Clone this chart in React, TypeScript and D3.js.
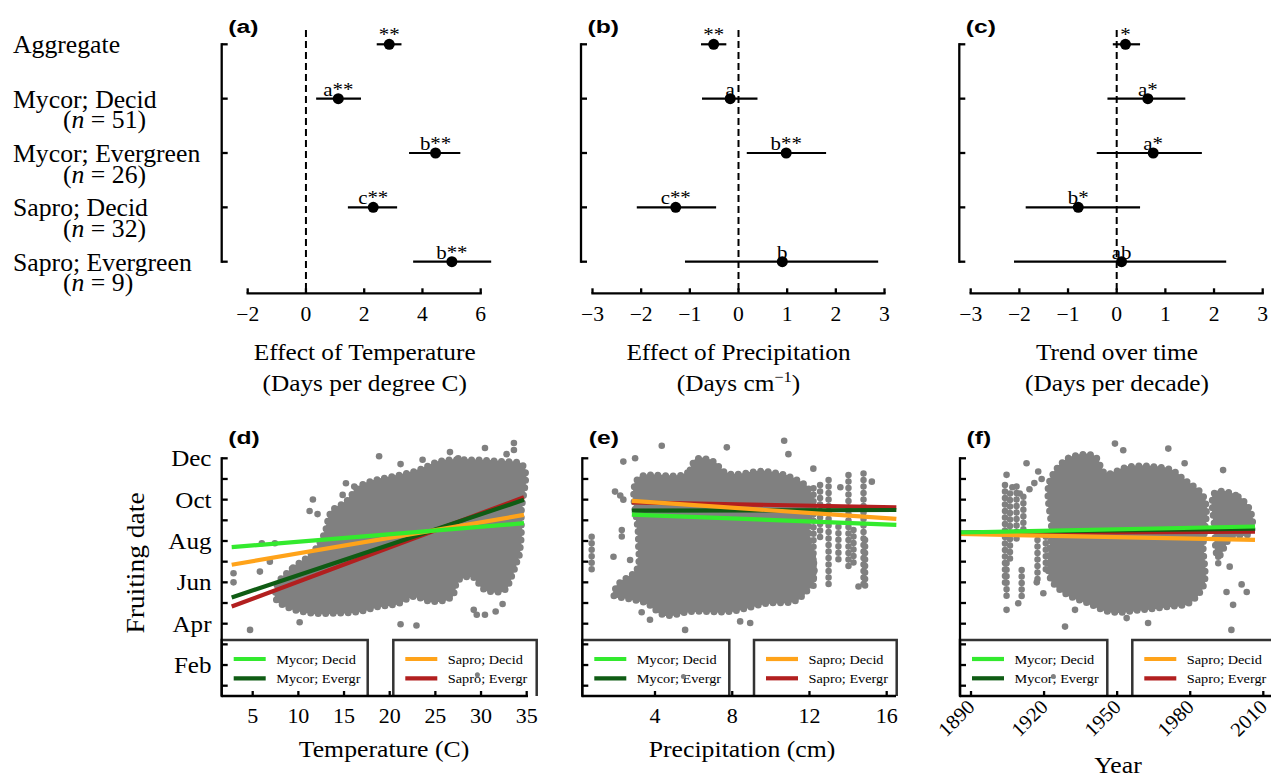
import React from "react";
import * as d3 from "d3";

// ---------- Top row: effect estimates ----------
const categories = ["Aggregate", "Mycor; Decid", "Mycor; Evergreen", "Sapro; Decid", "Sapro; Evergreen"];
const sampleSizes = [null, 51, 26, 32, 9];

const tempEst = [2.86, 1.11, 4.45, 2.31, 5.01];
const tempLo = [2.43, 0.35, 3.54, 1.44, 3.68];
const tempHi = [3.28, 1.89, 5.3, 3.13, 6.36];
const tempSig = ["**", "a**", "b**", "c**", "b**"];
const tempTicks = [-2, 0, 2, 4, 6];

const precipEst = [-0.51, -0.17, 0.98, -1.29, 0.9];
const precipLo = [-0.77, -0.75, 0.17, -2.09, -1.1];
const precipHi = [-0.25, 0.39, 1.8, -0.46, 2.87];
const precipSig = ["**", "a", "b**", "c**", "b"];

const trendEst = [0.18, 0.64, 0.75, -0.79, 0.1];
const trendLo = [-0.08, -0.19, -0.41, -1.87, -2.11];
const trendHi = [0.48, 1.41, 1.75, 0.48, 2.25];
const trendSig = ["*", "a*", "a*", "b*", "ab"];
const effectTicks = [-3, -2, -1, 0, 1, 2, 3];

// ---------- Bottom row: raw data + fits ----------
const monthValues = [2, 4, 6, 8, 10, 12];
const monthNames = ["Feb", "Apr", "Jun", "Aug", "Oct", "Dec"];
const monthMinor = [1, 2, 3, 4, 5, 6, 7, 8, 9, 10, 11, 12];

const seriesNames = ["Mycor; Decid", "Mycor; Evergr", "Sapro; Decid", "Sapro; Evergr"];

const tempTicksB = [5, 10, 15, 20, 25, 30, 35];
const tempFitRange = [2.7, 34.7];
const tempFitStart = [7.7, 5.27, 6.85, 4.83];
const tempFitEnd = [8.86, 9.99, 9.26, 10.12];

const precipTicksB = [4, 8, 12, 16];
const precipFitRange = [2.8, 16.5];
const precipFitStart = [9.28, 9.47, 9.94, 9.87];
const precipFitEnd = [8.78, 9.5, 9.07, 9.63];

const yearTicks = [1890, 1920, 1950, 1980, 2010];
const yearFitRange = [1885.3, 2006.6];
const yearFitStart = [8.41, 8.41, 8.34, 8.38];
const yearFitEnd = [8.7, 8.6, 8.05, 8.45];

// dense regions of fruiting records (outline, [x, month])
const tempCloud = [
  [7.61, 5.8], [9.42, 6.7], [11.5, 7.4], [12.8, 8.3], [13.76, 9.5], [15.21, 9.9], [16.66, 10.63],
  [18.47, 10.95], [20.29, 11.11], [23.18, 11.43], [25.36, 11.84], [28.99, 11.92], [32.25, 11.84],
  [34.24, 11.76], [34.4, 9.34], [34.24, 7.57], [33.33, 6.28], [32.6, 5.64], [30.43, 5.64],
  [28.99, 6.28], [27.53, 6.12], [26.81, 5.31], [24.63, 5.07], [22.46, 5.31], [21.0, 4.99],
  [18.84, 4.83], [16.66, 4.59], [14.12, 4.51], [11.59, 4.51], [8.69, 4.83], [7.61, 5.15],
];
const tempPoints = [
  [4.71, 3.7], [11.59, 10.01], [11.23, 9.45], [12.1, 9.3], [18.84, 12.1], [21.19, 11.72], [23.6, 11.93],
  [30.43, 12.5], [33.6, 12.74], [33.6, 12.4], [21.19, 3.97], [22.93, 3.91], [10.14, 4.07], [29.6, 3.08],
  [30.43, 4.43], [31.6, 4.59], [29.53, 4.43], [29.2, 4.67], [32.36, 4.95], [34.2, 7.3], [2.9, 6.44],
  [2.9, 6.0], [6.0, 7.89], [7.43, 7.89], [6.88, 7.0], [5.79, 6.52], [15.21, 10.79], [16.12, 10.63],
  [14.85, 10.23], [32.8, 12.2], [26.6, 12.3], [27.5, 12.0],
];
const tempOverPoints = [[29.6, 1.53]];

const precipCloud = [
  [3.14, 11.03], [5.82, 11.43], [6.08, 11.92], [7.03, 11.84], [7.55, 11.36], [9.79, 11.36],
  [11.17, 11.03], [11.86, 10.63], [11.95, 8.53], [12.04, 5.8], [11.35, 5.15], [9.79, 4.99],
  [7.89, 4.59], [5.82, 4.59], [4.44, 4.43], [3.57, 4.99], [2.54, 5.23], [1.85, 5.39], [2.02, 5.8],
  [3.05, 6.6], [3.14, 8.05],
];
const precipStripes = [
  [0.72, 8.21, 6.6], [2.28, 8.53, 8.05], [12.21, 10.55, 5.8], [12.55, 10.71, 8.05], [12.99, 10.95, 5.88],
  [13.5, 8.69, 6.92], [14.02, 11.19, 6.6], [14.28, 8.53, 6.76], [14.8, 11.27, 5.64], [14.88, 8.05, 5.8],
];
const precipPoints = [
  [4.35, 12.61], [7.72, 12.53], [10.69, 12.85], [10.91, 12.2], [2.36, 11.84], [2.97, 12.0], [5.56, 3.7],
  [3.74, 4.19], [8.41, 4.11], [8.93, 4.03], [6.34, 3.08], [3.31, 4.55], [1.85, 7.24], [2.71, 7.08],
  [1.93, 10.39], [2.36, 10.0], [14.54, 5.8], [15.23, 10.87], [2.2, 10.2], [13.6, 10.6], [12.2, 11.5],
];
const precipOverPoints = [[5.47, 1.45]];

const yearCloud = [
  [1923.1, 11.11], [1930.0, 12.0], [1940.9, 12.08], [1945.0, 11.27], [1954.6, 11.59], [1965.5, 11.59],
  [1972.3, 11.43], [1977.7, 10.95], [1984.6, 10.3], [1985.3, 7.73], [1984.6, 5.64], [1979.2, 4.99],
  [1971.0, 4.83], [1960.0, 4.67], [1946.4, 4.59], [1938.1, 4.99], [1928.6, 5.47], [1923.8, 5.96],
  [1923.1, 8.53],
];
const yearCloud2 = [
  [1990.8, 10.39], [1999.7, 10.14], [2004.5, 9.5], [2004.5, 8.37], [1997.0, 8.21], [1991.5, 7.24], [1990.1, 8.53],
];
const yearStripes = [
  [1903.95, 10.71, 5.8], [1906.0, 10.3, 6.92], [1908.7, 10.63, 8.05], [1911.5, 10.14, 8.53],
  [1904.6, 6.92, 5.31], [1910.8, 6.6, 5.31], [1917.3, 8.05, 5.96], [1920.7, 8.21, 6.6], [1991.5, 8.5, 6.8],
];
const yearPoints = [
  [1949.1, 12.71], [1952.5, 12.39], [1971.0, 12.47], [1977.7, 11.76], [1993.5, 11.43], [1912.8, 11.76],
  [1917.6, 11.36], [1904.6, 11.2], [1928.6, 3.86], [1953.9, 4.27], [1962.7, 4.03], [1996.9, 3.7],
  [1997.6, 4.91], [2001.1, 5.9], [2003.2, 5.53], [1994.9, 5.53], [1996.2, 6.76], [1904.6, 4.67],
  [1909.4, 4.99], [1919.7, 5.47], [1917.0, 6.0], [1932.7, 4.67], [1960.7, 3.08], [1907.0, 10.6],
  [1910.0, 10.3], [1914.0, 10.5], [1916.0, 10.8], [1919.0, 11.0],
];
const yearOverPoints = [[1923.8, 1.45]];

// ---------- styling ----------
const serif = "'Liberation Serif','Times New Roman',serif";
const sans = "'Liberation Sans',Arial,sans-serif";
const lineColors = ["#33ea2e", "#0f5c14", "#ffa31a", "#b21f1f"];
const drawOrder = [3, 1, 2, 0];
const gray = "#808080";
const fmt = d3.format("");

function Txt({ x, y, size, anchor = "start", sx = 1.08, rotate = 0, family = serif, weight = "normal", baseline, children }: any) {
  const tr = `translate(${x},${y})` + (rotate ? ` rotate(${rotate})` : "") + ` scale(${sx},1)`;
  return (
    <text transform={tr} fontSize={size} fontFamily={family} fontWeight={weight} textAnchor={anchor}
      dominantBaseline={baseline} fill="#000">{children}</text>
  );
}

function EffectPanel({ x, ticks, est, lo, hi, sig, axisX, label, title1, title2, titleX }: any) {
  const y = d3.scalePoint().domain(categories).range([44.3, 261.7]);
  const axisY = 293.3;
  const [d0, d1] = x.domain();
  return (
    <g>
      <Txt x={axisX + 6.5} y={33} size={19} sx={1.3} family={sans} weight="bold">{label}</Txt>
      <line x1={x(0)} x2={x(0)} y1={30} y2={291} stroke="#000" strokeWidth={2} strokeDasharray="7,4" />
      <line x1={axisX} x2={axisX} y1={y(categories[0])} y2={y(categories[4])} stroke="#000" strokeWidth={2.3} strokeLinecap="square" />
      {categories.map((c) => (
        <line key={c} x1={axisX} x2={axisX + 6} y1={y(c)} y2={y(c)} stroke="#000" strokeWidth={2.3} />
      ))}
      <line x1={x(d0)} x2={x(d1)} y1={axisY} y2={axisY} stroke="#000" strokeWidth={2.3} strokeLinecap="square" />
      {ticks.map((t: number) => (
        <g key={t}>
          <line x1={x(t)} x2={x(t)} y1={axisY} y2={axisY - 5} stroke="#000" strokeWidth={2.3} />
          <Txt x={x(t)} y={321} size={20} anchor="middle">{fmt(t)}</Txt>
        </g>
      ))}
      {categories.map((c, i) => (
        <g key={c}>
          <line x1={x(lo[i])} x2={x(hi[i])} y1={y(c)} y2={y(c)} stroke="#000" strokeWidth={2.2} />
          <circle cx={x(est[i])} cy={y(c)} r={5.5} fill="#000" />
          <Txt x={x(est[i])} y={y(c)! - 3} size={19} anchor="middle" sx={1.1}>{sig[i]}</Txt>
        </g>
      ))}
      <Txt x={titleX} y={360} size={23} anchor="middle" sx={1.1}>{title1}</Txt>
      <Txt x={titleX} y={391} size={23} anchor="middle" sx={1.1}>{title2}</Txt>
    </g>
  );
}

function ScatterPanel({ x, yM, ticks, axisStart, axisEnd, clouds, stripes, points, overPoints, fitRange, fitStart, fitEnd,
  boxes, label, showMonths, rotateTicks, title, titleX, titleY }: any) {
  const yBottom = 696;
  const yTop = yM(12);
  const cloudPath = d3.line<number[]>().x((d) => x(d[0])).y((d) => yM(d[1])).curve(d3.curveCatmullRomClosed.alpha(1));
  return (
    <g>
      <Txt x={axisStart + 6.5} y={444} size={19} sx={1.3} family={sans} weight="bold">{label}</Txt>
      {/* data */}
      {clouds.map((c: number[][], i: number) => (
        <g key={i}>
          <path d={cloudPath(c) || ""} fill={gray} stroke={gray} strokeWidth={1.5} strokeLinejoin="round" />
          <path d={cloudPath(c) || ""} fill="none" stroke={gray} strokeWidth={7} strokeLinecap="round" strokeDasharray="0,7.5" />
        </g>
      ))}
      {stripes.map((s: number[], i: number) => (
        <line key={i} x1={x(s[0])} x2={x(s[0])} y1={yM(s[1])} y2={yM(s[2])} stroke={gray} strokeWidth={6.5}
          strokeLinecap="round" strokeDasharray="0,6.5" />
      ))}
      {points.map((p: number[], i: number) => (
        <circle key={i} cx={x(p[0])} cy={yM(p[1])} r={3.3} fill={gray} />
      ))}
      {drawOrder.map((k) => (
        <line key={k} x1={x(fitRange[0])} x2={x(fitRange[1])} y1={yM(fitStart[k])} y2={yM(fitEnd[k])}
          stroke={lineColors[k]} strokeWidth={4.2} />
      ))}
      {/* legend boxes */}
      {boxes.map((b: number[], bi: number) => (
        <g key={bi}>
          <path d={`M${b[0]},${yBottom} L${b[0]},640 L${b[1]},640 L${b[1]},${yBottom}`} fill="#fff" stroke="#333" strokeWidth={2.5} />
          {[0, 1].map((j) => {
            const k = bi * 2 + j;
            const yy = 659 + j * 19.3;
            return (
              <g key={k}>
                <line x1={b[0] + 12} x2={b[0] + 44} y1={yy} y2={yy} stroke={lineColors[k]} strokeWidth={4.2} />
                <Txt x={b[0] + 54.5} y={yy + 4.5} size={13} sx={1.1}>{seriesNames[k]}</Txt>
              </g>
            );
          })}
        </g>
      ))}
      {overPoints.map((p: number[], i: number) => (
        <circle key={i} cx={x(p[0])} cy={yM(p[1])} r={2.5} fill={gray} />
      ))}
      {/* axes */}
      <line x1={axisStart} x2={axisStart} y1={yTop} y2={yBottom} stroke="#000" strokeWidth={2.3} strokeLinecap="square" />
      {monthMinor.map((m) => (
        <line key={m} x1={axisStart} x2={axisStart + 6} y1={yM(m)} y2={yM(m)} stroke="#000" strokeWidth={2.3} />
      ))}
      {showMonths && monthValues.map((m, i) => (
        <Txt key={m} x={211.5} y={yM(m) + 8} size={23} anchor="end" sx={1.09}>{monthNames[i]}</Txt>
      ))}
      <line x1={axisStart} x2={axisEnd} y1={yBottom} y2={yBottom} stroke="#000" strokeWidth={2.3} />
      {ticks.map((t: number) => (
        <g key={t}>
          <line x1={x(t)} x2={x(t)} y1={yBottom} y2={yBottom - 5} stroke="#000" strokeWidth={2.3} />
          {rotateTicks ? (
            <Txt x={x(t) + 5} y={708} size={20} anchor="end" rotate={-45} sx={1.05}>{fmt(t)}</Txt>
          ) : (
            <Txt x={x(t)} y={723} size={20} anchor="middle" sx={1.1}>{fmt(t)}</Txt>
          )}
        </g>
      ))}
      <Txt x={titleX} y={titleY} size={23} anchor="middle" sx={1.12}>{title}</Txt>
    </g>
  );
}

export default function App() {
  const xA = d3.scaleLinear().domain([-2, 6]).range([247.7, 480.7]);
  const xB = d3.scaleLinear().domain([-3, 3]).range([592.5, 884.5]);
  const xC = d3.scaleLinear().domain([-3, 3]).range([970.7, 1262.7]);
  const xD = d3.scaleLinear().domain([5, 35]).range([252.7, 526.7]);
  const xE = d3.scaleLinear().domain([4, 16]).range([655, 886.7]);
  const xF = d3.scaleLinear().domain([1890, 2010]).range([971, 1263.3]);
  const yM = d3.scaleLinear().domain([1, 12]).range([685.7, 458.3]);
  const yRow = d3.scalePoint().domain(categories).range([44.3, 261.7]);

  return (
    <svg width={1271} height={778} style={{ position: "absolute", left: 0, top: 0, background: "#fff" }}>
      <rect width={1271} height={778} fill="#fff" />
      {categories.map((c, i) => (
        <g key={c}>
          <Txt x={13} y={yRow(c)! + 9} size={24.5} sx={1.05}>{c}</Txt>
          {sampleSizes[i] != null && (
            <Txt x={63} y={yRow(c)! + 29.5} size={24.5} sx={1.05}>
              (<tspan fontStyle="italic">n</tspan> = {sampleSizes[i]})
            </Txt>
          )}
        </g>
      ))}
      <EffectPanel x={xA} ticks={tempTicks} est={tempEst} lo={tempLo} hi={tempHi} sig={tempSig} axisX={221.7}
        label="(a)" title1="Effect of Temperature" title2="(Days per degree C)" titleX={364.7} />
      <EffectPanel x={xB} ticks={effectTicks} est={precipEst} lo={precipLo} hi={precipHi} sig={precipSig} axisX={581}
        label="(b)" title1="Effect of Precipitation"
        title2={<>(Days cm<tspan dy={-9} fontSize={15}>−1</tspan><tspan dy={9}>)</tspan></>} titleX={738.5} />
      <EffectPanel x={xC} ticks={effectTicks} est={trendEst} lo={trendLo} hi={trendHi} sig={trendSig} axisX={959.3}
        label="(c)" title1="Trend over time" title2="(Days per decade)" titleX={1117} />

      <Txt x={144} y={563} size={25} anchor="middle" rotate={-90} sx={1.1}>Fruiting date</Txt>

      <ScatterPanel x={xD} yM={yM} ticks={tempTicksB} axisStart={221.7} axisEnd={528} clouds={[tempCloud]} stripes={[]}
        points={tempPoints} overPoints={tempOverPoints} fitRange={tempFitRange} fitStart={tempFitStart} fitEnd={tempFitEnd}
        boxes={[[221.7, 367.7], [393.3, 536.7]]} label="(d)" showMonths={true} rotateTicks={false}
        title="Temperature (C)" titleX={384} titleY={757} />
      <ScatterPanel x={xE} yM={yM} ticks={precipTicksB} axisStart={582.3} axisEnd={896} clouds={[precipCloud]}
        stripes={precipStripes} points={precipPoints} overPoints={precipOverPoints} fitRange={precipFitRange}
        fitStart={precipFitStart} fitEnd={precipFitEnd} boxes={[[582.3, 729.3], [754, 896.7]]} label="(e)"
        showMonths={false} rotateTicks={false} title="Precipitation (cm)" titleX={742} titleY={757} />
      <ScatterPanel x={xF} yM={yM} ticks={yearTicks} axisStart={960} axisEnd={1271} clouds={[yearCloud, yearCloud2]}
        stripes={yearStripes} points={yearPoints} overPoints={yearOverPoints} fitRange={yearFitRange}
        fitStart={yearFitStart} fitEnd={yearFitEnd} boxes={[[960, 1107.3], [1132.3, 1276]]} label="(f)"
        showMonths={false} rotateTicks={true} title="Year" titleX={1118} titleY={773} />
    </svg>
  );
}
